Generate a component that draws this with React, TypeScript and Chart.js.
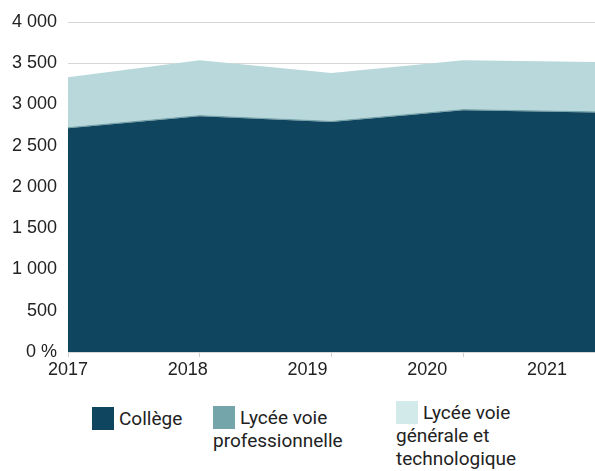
import React, { useEffect, useRef } from "react";
import { Chart, registerables } from "chart.js";

Chart.register(...registerables);

const years = [2017, 2018, 2019, 2020, 2021];
const xTickLabels = ["2017", "2018", "2019", "2020", "2021"];
const yTickLabels = ["0 %", "500", "1 000", "1 500", "2 000", "2 500", "3 000", "3 500", "4 000"];
const seriesNames = ["Collège", "Lycée voie professionnelle", "Lycée voie générale et technologique"];
const college = [2712, 2857, 2788, 2930, 2902];
const lyceePro = [15, 15, 15, 15, 15];
const lyceeGen = [602, 663, 578, 590, 598];
const areaColors = ["#0f455e", "#74a5ab", "#b8d8db"];
const legendColors = ["#0f455e", "#74a5ab", "#d3eaea"];

const tickFont = { family: "'Liberation Sans', Arial, sans-serif", size: 18 };

export default function App() {
  const ref = useRef<HTMLCanvasElement | null>(null);

  useEffect(() => {
    if (!ref.current) return;
    const values = [college, lyceePro, lyceeGen];
    const chart = new Chart(ref.current, {
      type: "line",
      data: {
        labels: xTickLabels,
        datasets: values.map((v, i) => ({
          label: seriesNames[i],
          data: v,
          backgroundColor: areaColors[i],
          borderColor: areaColors[i],
          borderWidth: 0,
          pointRadius: 0,
          tension: 0,
          fill: i === 0 ? "origin" : "-1",
        })),
      },
      options: {
        animation: false,
        responsive: true,
        maintainAspectRatio: false,
        layout: { padding: { top: 22, bottom: 13, left: 0, right: 0 } },
        plugins: { legend: { display: false }, tooltip: { enabled: false } },
        scales: {
          x: {
            type: "category",
            offset: false,
            border: { display: false },
            grid: { drawOnChartArea: false, drawTicks: true, tickLength: 5, color: "#d0d0d0" },
            ticks: { display: false },
            afterFit: (s: any) => {
              s.height = 0;
            },
          },
          x2: {
            type: "linear",
            position: "bottom",
            min: years[0],
            max: 2021.4,
            border: { display: false },
            grid: { display: false, drawTicks: false },
            afterBuildTicks: (s: any) => {
              s.ticks = years.map((y) => ({ value: y }));
            },
            ticks: {
              autoSkip: false,
              maxRotation: 0,
              padding: 7,
              color: "#222",
              font: tickFont,
              callback: (_v: any, i: number) => xTickLabels[i],
            },
            afterFit: (s: any) => {
              s.height = 30;
            },
          },
          y: {
            stacked: true,
            min: 0,
            max: 4000,
            border: { display: false },
            grid: { drawTicks: false, color: "#d6d6d6", lineWidth: 1 },
            ticks: {
              stepSize: 500,
              padding: 11,
              color: "#222",
              font: tickFont,
              callback: (_v: any, i: number) => yTickLabels[i],
            },
            afterFit: (s: any) => {
              s.width = 68;
            },
          },
        },
      },
    });
    return () => chart.destroy();
  }, []);

  const legendPos = [
    { left: 92, top: 407, width: 120 },
    { left: 213, top: 406, width: 145 },
    { left: 396, top: 401, width: 140 },
  ];

  return (
    <div style={{ position: "absolute", left: 0, top: 0, width: 595, height: 471, background: "#fff" }}>
      <div style={{ position: "absolute", left: 0, top: 0, width: 595, height: 395 }}>
        <canvas ref={ref} />
      </div>
      {seriesNames.map((name, i) => (
        <div
          key={name}
          style={{
            position: "absolute",
            left: legendPos[i].left,
            top: legendPos[i].top,
            width: legendPos[i].width,
            fontFamily: "Roboto, 'Liberation Sans', sans-serif",
            fontSize: 19,
            lineHeight: "23px",
            color: "#222",
          }}
        >
          <span
            style={{
              display: "inline-block",
              width: 22,
              height: 23,
              background: legendColors[i],
              verticalAlign: "top",
              marginRight: 5,
            }}
          />
          {name}
        </div>
      ))}
    </div>
  );
}
